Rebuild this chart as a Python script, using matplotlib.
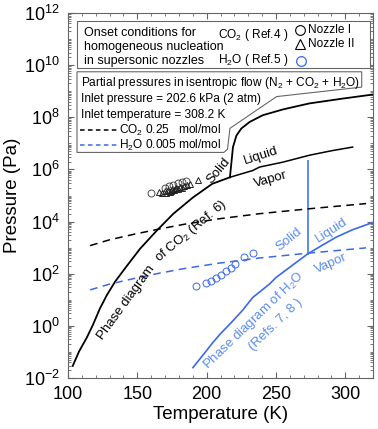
import matplotlib.pyplot as plt
from matplotlib.patches import Polygon
from matplotlib.ticker import MultipleLocator, LogLocator, NullFormatter

plt.rcParams['font.family'] = 'Liberation Sans'
plt.rcParams['mathtext.fontset'] = 'custom'
plt.rcParams['mathtext.rm'] = 'Liberation Sans'
plt.rcParams['mathtext.it'] = 'Liberation Sans:italic'
plt.rcParams['mathtext.default'] = 'regular'

# CO2 phase diagram (Ref. 6): sublimation, melting, vaporization
co2_sub_T = [103.4, 108, 113.5, 118, 123, 128, 134, 142, 152, 164, 176, 190, 204, 216.8]
co2_sub_P = [0.029, 0.105, 0.35, 1.1, 4.6, 15, 50, 185, 910, 4500, 2.0e4, 8.3e4, 2.8e5, 5.0e5]
co2_melt_T = [216.8, 219, 221.5, 225, 231, 240.5, 255, 274, 298, 321]
co2_melt_P = [5.0e5, 7.2e6, 2.0e7, 3.7e7, 6.6e7, 1.2e8, 2.0e8, 3.4e8, 5.2e8, 7.6e8]
co2_vap_T = [216.8, 233.3, 238.1, 254.9, 274.1, 290, 305.3]
co2_vap_P = [5.0e5, 9.1e5, 1.23e6, 1.9e6, 3.5e6, 5.2e6, 7.2e6]

# H2O phase diagram (Refs. 7, 8)
h2o_sub_T = [190.1, 199.8, 204.5, 210, 218.9, 226, 233.3, 245.3, 250.1, 260, 272.9]
h2o_sub_P = [0.025, 0.11, 0.23, 0.50, 1.55, 4.0, 12.3, 40, 72, 178, 575]
h2o_vap_T = [272.9, 283, 293.3, 305, 320]
h2o_vap_P = [575, 1200, 2500, 4800, 9300]
h2o_melt_T = [272.9, 272.9]
h2o_melt_P = [575, 2.2e6]

# partial pressures in isentropic flow
flow_T = [116, 130, 148, 166, 184, 208, 238, 274, 315]
flow_co2_P = [1200, 2000, 3300, 5200, 7900, 12600, 20000, 31000, 49000]
flow_h2o_P = [24, 40, 66, 105, 158, 250, 400, 620, 980]

# onset of homogeneous nucleation
noz1_T = [160, 170, 173, 176, 179, 182, 185]
noz1_P = [1.26e5, 2.0e5, 2.34e5, 2.63e5, 2.95e5, 3.39e5, 3.63e5]
noz2_T = [165.5, 168, 170, 171, 172, 173.5, 174.5, 175, 176.5, 177.5, 178, 179.5, 181,
          182.5, 184, 186, 188, 193.7]
noz2_P = [1.35e5, 1.26e5, 1.48e5, 1.30e5, 1.58e5, 1.41e5, 1.55e5, 1.74e5, 1.66e5, 1.80e5,
          1.91e5, 1.82e5, 2.09e5, 2.0e5, 2.29e5, 2.51e5, 2.82e5, 3.8e5]
h2o_on_T = [192.1, 199.8, 203.4, 207.0, 210.6, 214.2, 217.8, 220.1, 227.3, 233.8]
h2o_on_P = [35, 44, 54, 68, 91, 123, 166, 234, 447, 603]

y_exponents = [-2, 0, 2, 4, 6, 8, 10, 12]

blue = '#3a6ae8'
lblue = '#5b8cf0'
grey = '#666666'

fig = plt.figure(figsize=(3.78, 4.29), dpi=100)
ax = fig.add_axes([68 / 378, 51 / 429, 305 / 378, 365 / 429])
ax.set_yscale('log')

ax.plot(co2_sub_T, co2_sub_P, color='black', lw=1.3)
ax.plot(co2_melt_T, co2_melt_P, color='black', lw=1.3)
ax.plot(co2_vap_T, co2_vap_P, color='black', lw=1.1)
ax.plot(h2o_sub_T, h2o_sub_P, color=blue, lw=1.2)
ax.plot(h2o_vap_T, h2o_vap_P, color=blue, lw=1.2)
ax.plot(h2o_melt_T, h2o_melt_P, color=lblue, lw=1.4)
ax.plot(flow_T, flow_co2_P, color='black', lw=1.1, dashes=(5, 3.5))
ax.plot(flow_T, flow_h2o_P, color=blue, lw=1.1, dashes=(5, 3.5))

ax.plot(noz1_T, noz1_P, 'o', ms=5, mfc='none', mec='#333333', mew=0.6)
ax.plot(noz2_T, noz2_P, '^', ms=5, mfc='none', mec='#222222', mew=0.7)
ax.plot(h2o_on_T, h2o_on_P, 'o', ms=5, mfc='none', mec=blue, mew=0.7)

# region labels
fs = 9.5
kw = dict(ha='center', va='center', rotation_mode='anchor', fontsize=fs)
ax.text(208.5, 8.6e5, 'Solid', rotation=50, **kw)
ax.text(239.3, 3.2e6, 'Liquid', rotation=18, **kw)
ax.text(246.5, 4.0e5, 'Vapor', rotation=16, **kw)
ax.text(142, 8, 'Phase diagram', rotation=54, **kw)
ax.text(189, 4200, 'of CO$_2$ (Ref. 6)', rotation=40, **kw)
ax.text(259.7, 2100, 'Solid', rotation=39, color=lblue, **kw)
ax.text(290.3, 4500, 'Liquid', rotation=33, color=lblue, **kw)
ax.text(289.7, 250, 'Vapor', rotation=24, color=lblue, **kw)
ax.text(233.8, 1.55, 'Phase diagram of H$_2$O', rotation=44, color=lblue, **kw)
ax.text(249.5, 1.1, '(Refs. 7, 8 )', rotation=44, color=lblue, **kw)

# legend boxes
tr = ax.transAxes
box1 = Polygon([(0.0295, 0.8485), (0.990, 0.8485), (0.990, 0.978), (0.0295, 0.978)],
               closed=True, transform=tr, fc='white', ec=grey, lw=0.8, zorder=5)
box2 = Polygon([(0.0295, 0.839), (0.963, 0.839), (0.963, 0.797), (0.684, 0.771),
                (0.531, 0.684), (0.523, 0.627), (0.511, 0.618), (0.0295, 0.618)],
               closed=True, transform=tr, fc='white', ec=grey, lw=0.8, zorder=5)
ax.add_patch(box1)
ax.add_patch(box2)

lfs = 8.6
lk = dict(transform=tr, fontsize=lfs, va='center', ha='left', zorder=6)
ax.text(0.0525, 0.945, 'Onset conditions for', fontsize=9, transform=tr, va='center', zorder=6)
ax.text(0.0525, 0.907, 'homogeneous nucleation', fontsize=9, transform=tr, va='center', zorder=6)
ax.text(0.0525, 0.868, 'in supersonic nozzles', fontsize=9, transform=tr, va='center', zorder=6)
ax.text(0.492, 0.940, 'CO$_2$ ( Ref.4 )', **lk)
ax.text(0.492, 0.871, 'H$_2$O ( Ref.5 )', **lk)
ax.plot([0.761], [0.953], 'o', ms=7, mfc='none', mec='black', mew=0.8, transform=tr, zorder=6, clip_on=False)
ax.plot([0.761], [0.916], '^', ms=7.5, mfc='none', mec='black', mew=0.8, transform=tr, zorder=6, clip_on=False)
ax.plot([0.764], [0.868], 'o', ms=7, mfc='none', mec=blue, mew=0.9, transform=tr, zorder=6, clip_on=False)
ax.text(0.787, 0.953, 'Nozzle I', **lk)
ax.text(0.787, 0.916, 'Nozzle II', **lk)

ax.text(0.0426, 0.808, 'Partial pressures in isentropic flow (N$_2$ + CO$_2$ + H$_2$O)', **lk)
ax.text(0.0426, 0.764, 'Inlet pressure = 202.6 kPa (2 atm)', **lk)
ax.text(0.0426, 0.7205, 'Inlet temperature = 308.2 K', **lk)
ax.plot([0.039, 0.161], [0.679, 0.679], color='black', lw=1.1, dashes=(3, 2.2), transform=tr, zorder=6)
ax.plot([0.039, 0.161], [0.638, 0.638], color=blue, lw=1.1, dashes=(3, 2.2), transform=tr, zorder=6)
ax.text(0.167, 0.679, 'CO$_2$ 0.25   mol/mol', **lk)
ax.text(0.167, 0.638, 'H$_2$O 0.005 mol/mol', **lk)

# axes
ax.set_xlim(100, 320)
ax.set_ylim(1e-2, 1e12)
ax.xaxis.set_major_locator(MultipleLocator(50))
ax.xaxis.set_minor_locator(MultipleLocator(10))
ax.set_yticks([10.0 ** k for k in y_exponents])
ax.set_yticklabels(['$10^{%d}$' % k for k in y_exponents])
ax.yaxis.set_minor_locator(LogLocator(base=10, subs=range(1, 10), numticks=100))
ax.yaxis.set_minor_formatter(NullFormatter())
ax.tick_params(which='both', direction='in', top=True, right=True, color=grey, labelsize=13)
ax.tick_params(which='major', length=4, width=0.8, pad=6)
ax.tick_params(which='minor', length=2.5, width=0.6)
for s in ax.spines.values():
    s.set_color(grey)
    s.set_linewidth(0.8)

ax.set_xlabel('Temperature (K)', fontsize=13.5, labelpad=2)
ax.set_ylabel('Pressure (Pa)', fontsize=13.5, labelpad=2)

fig.savefig('out.png', dpi=100)
